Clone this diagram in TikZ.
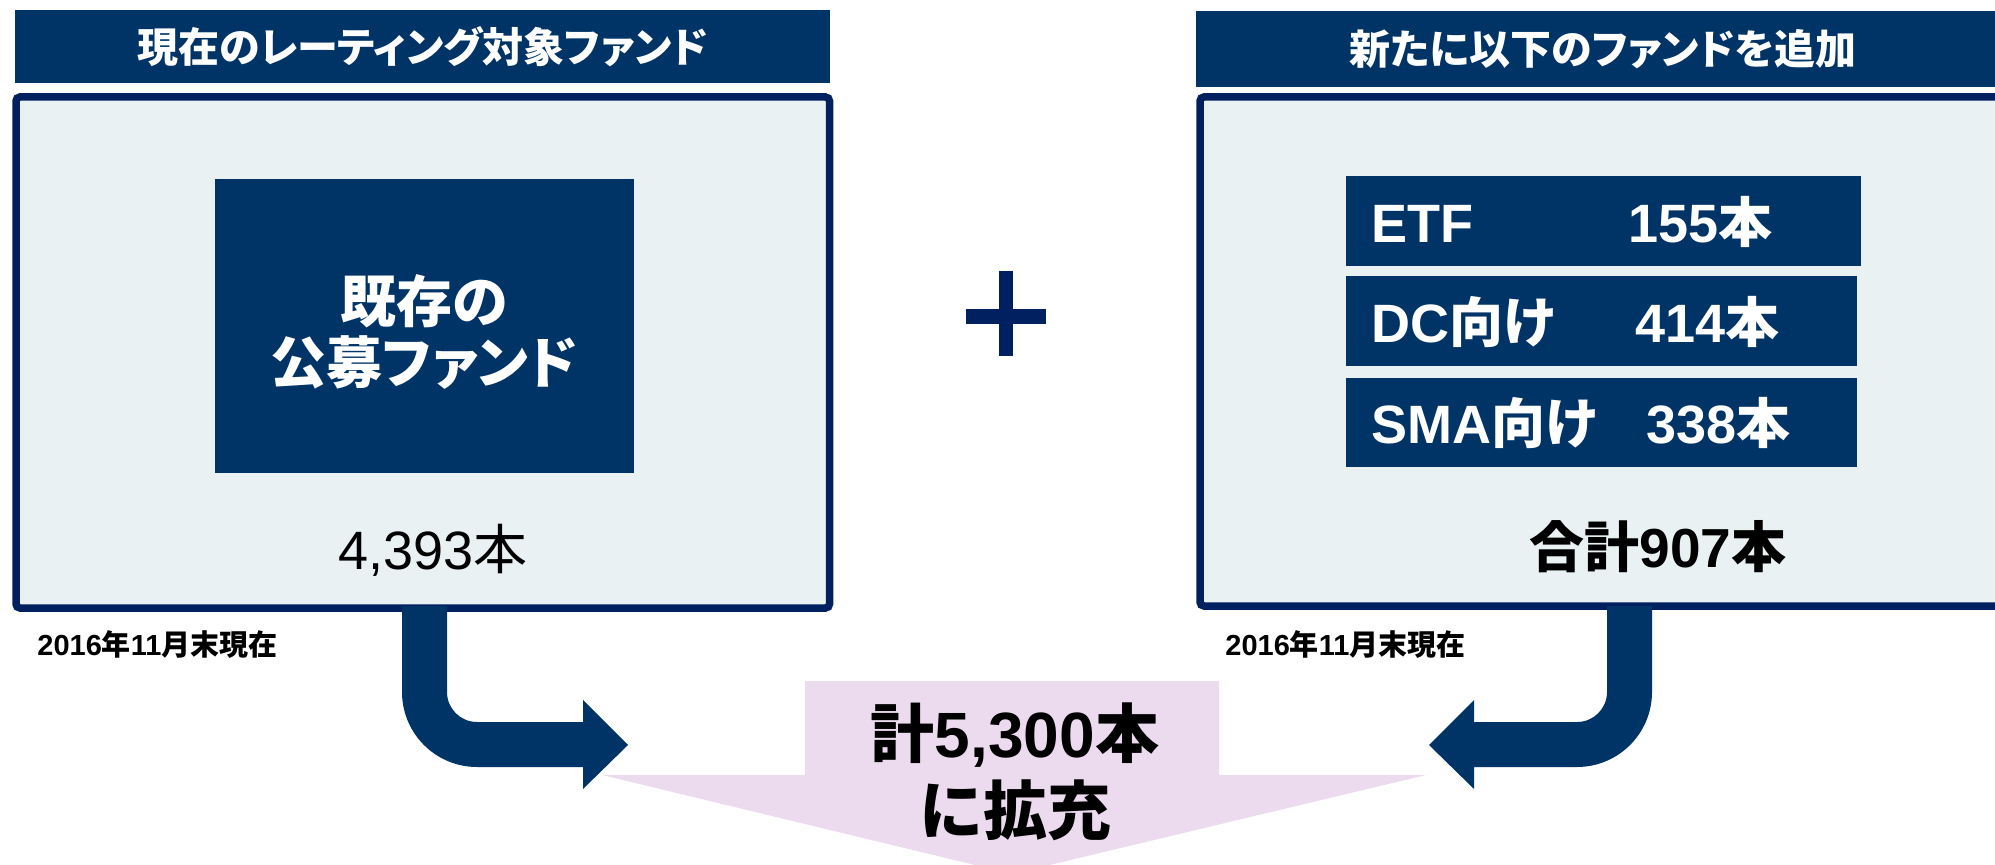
\documentclass[tikz,border=0pt]{standalone}
\usepackage{fontspec}
\setmainfont{Liberation Sans}
\newfontfamily\jp{Noto Sans CJK JP}
\newfontfamily\jpp[RawFeature=+palt]{Noto Sans CJK JP}
\newcommand\J[1]{{\jp #1}}
\definecolor{hdr}{RGB}{0,51,102}
\definecolor{bord}{RGB}{0,32,96}
\definecolor{lightfill}{RGB}{233,241,243}
\definecolor{pinkc}{RGB}{236,219,238}
\tikzset{
  hdrbox/.style={fill=hdr, inner sep=0pt, text=white, font=\fontsize{20.5}{24}\selectfont\bfseries\jpp},
  panel/.style={draw=bord, fill=lightfill, line width=3.75pt, rounded corners=2pt, inner sep=0pt},
  darkbox/.style={fill=hdr, inner sep=0pt},
  rowtext/.style={anchor=west, inner sep=0pt, text=white, font=\fontsize{27}{30}\selectfont\bfseries},
  datetext/.style={anchor=west, inner sep=0pt, font=\fontsize{14.5}{17}\selectfont\bfseries},
  bigtext/.style={inner sep=0pt, font=\fontsize{32}{36}\selectfont\bfseries},
  blockarrow/.style={fill=hdr}
}
\begin{document}
\begin{tikzpicture}[x=0.5pt,y=-0.5pt]
\useasboundingbox (0,0) rectangle (1995,865);
\clip (0,0) rectangle (1995,865);

% pink summary arrow (behind)
\fill[pinkc] (805,681) -- (1219,681) -- (1219,775) -- (1426,775) -- (1012,874) -- (602,775) -- (805,775) -- cycle;
\node[bigtext] (sum1) at (1015,735) {\J{計}5,300\J{本}};
\node[bigtext] (sum2) at (1015,810) {\J{に拡充}};

% left side
\node[hdrbox, minimum width=407.5pt, minimum height=36.5pt] (lhdr) at (422.5,46.5) {現在のレーティング対象ファンド};
\node[panel, minimum width=406.75pt, minimum height=255.5pt] (lpanel) at (422.75,352.5) {};
\node[darkbox, minimum width=209.5pt, minimum height=147pt] (exist) at (424.5,326) {};
\node[inner sep=0pt, text=white, align=center, font=\fontsize{28}{30.5}\selectfont\bfseries\jpp] (existtxt) at (424,332.5) {既存の\\公募ファンド};
\node[inner sep=0pt, font=\fontsize{27}{30}\selectfont] (lcount) at (433,550) {4,393\J{本}};
\node[datetext] (ldate) at (37,645) {2016\J{年}11\J{月末現在}};

% plus sign
\fill[bord] (999,271) rectangle (1013,356);
\fill[bord] (966,309) rectangle (1046,324);

% right side
\node[hdrbox, minimum width=407pt, minimum height=38pt] (rhdr) at (1603,49.5) {新たに以下のファンドを追加};
\node[panel, minimum width=406.5pt, minimum height=254.5pt] (rpanel) at (1606.5,351.5) {};
\node[darkbox, minimum width=257.5pt, minimum height=45pt] (etf) at (1603.5,221) {};
\node[darkbox, minimum width=255.5pt, minimum height=45pt] (dc) at (1601.5,321) {};
\node[darkbox, minimum width=255.5pt, minimum height=44.5pt] (sma) at (1601.5,422.5) {};
\node[rowtext] (etftxt) at (1371,222) {\makebox[128.5pt][l]{ETF}155\J{本}};
\node[rowtext] (dctxt) at (1371,322) {\makebox[132pt][l]{DC\J{向け}}414\J{本}};
\node[rowtext] (smatxt) at (1371,423) {\makebox[137.5pt][l]{SMA\J{向け}}338\J{本}};
\node[inner sep=0pt, font=\fontsize{27.5}{30}\selectfont\bfseries] (total) at (1658,547) {\J{合計}907\J{本}};
\node[datetext] (rdate) at (1225,645) {2016\J{年}11\J{月末現在}};

% left bent arrow
\fill[blockarrow] (402,606) -- (402,692) .. controls (402,733.4) and (435.6,767) .. (477,767)
  -- (583,767) -- (583,789) -- (628,745) -- (583,700) -- (583,722) -- (477,722)
  .. controls (460.4,722) and (447,708.6) .. (447,692) -- (447,606) -- cycle;
% right bent arrow
\fill[blockarrow] (1652,606) -- (1652,692) .. controls (1652,733.4) and (1618.4,767) .. (1577,767)
  -- (1474,767) -- (1474,789) -- (1429,745) -- (1474,700) -- (1474,722) -- (1577,722)
  .. controls (1593.6,722) and (1607,708.6) .. (1607,692) -- (1607,606) -- cycle;
\end{tikzpicture}
\end{document}
